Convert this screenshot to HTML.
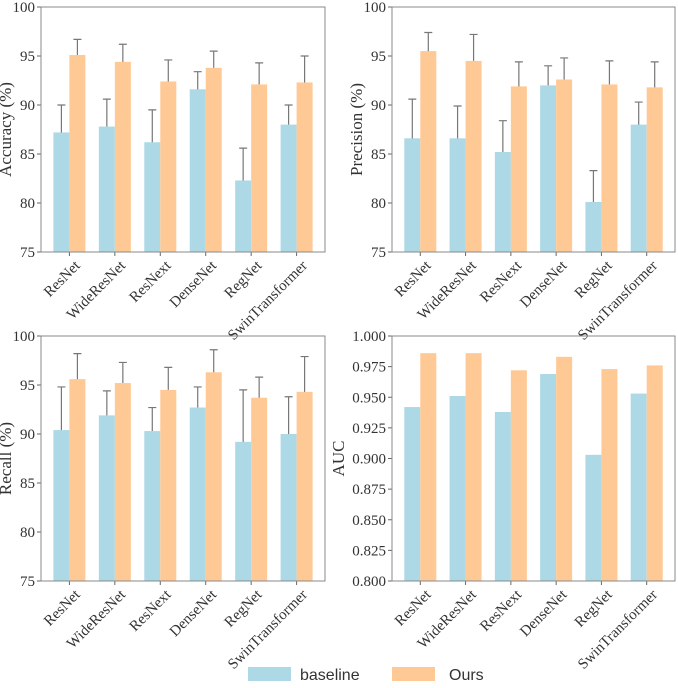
<!DOCTYPE html>
<html><head><meta charset="utf-8"><style>
body{margin:0;background:#fff}
svg text{font-family:"Liberation Serif",serif;fill:#333}
</style></head><body>
<svg id="c" width="678" height="683"></svg>
<script>
const categories=["ResNet","WideResNet","ResNext","DenseNet","RegNet","SwinTransformer"];
const accBase=[87.2,87.8,86.2,91.6,82.3,88.0];
const accBaseErr=[2.8,2.8,3.3,1.8,3.3,2.0];
const accOurs=[95.1,94.4,92.4,93.8,92.1,92.3];
const accOursErr=[1.6,1.8,2.2,1.7,2.2,2.7];
const preBase=[86.6,86.6,85.2,92.0,80.1,88.0];
const preBaseErr=[4.0,3.3,3.2,2.0,3.2,2.3];
const preOurs=[95.5,94.5,91.9,92.6,92.1,91.8];
const preOursErr=[1.9,2.7,2.5,2.2,2.4,2.6];
const recBase=[90.4,91.9,90.3,92.7,89.2,90.0];
const recBaseErr=[4.4,2.5,2.4,2.1,5.3,3.8];
const recOurs=[95.6,95.2,94.5,96.3,93.7,94.3];
const recOursErr=[2.6,2.1,2.3,2.3,2.1,3.6];
const aucBase=[0.942,0.951,0.938,0.969,0.903,0.953];
const aucOurs=[0.986,0.986,0.972,0.983,0.973,0.976];
const pctTicks=[75,80,85,90,95,100];
const aucTicks=[0.800,0.825,0.850,0.875,0.900,0.925,0.950,0.975,1.000];

const NS="http://www.w3.org/2000/svg";
const svg=document.getElementById('c');
function mk(t,a,p){const e=document.createElementNS(NS,t);for(const k in a)e.setAttribute(k,a[k]);(p||svg).appendChild(e);return e;}
function panel(name,x0,y0,x1,y1,ymin,ymax,ticks,dec,label,base,bErr,ours,oErr){
  const g=mk('g',{});
  
  
  const ys=v=>y1-(v-ymin)/(ymax-ymin)*(y1-y0);
  const step=(x1-x0)/6.25, xc=i=>x0+step*(0.625+i), bw=16;
  categories.forEach((c,i)=>{
    const bb=mk('rect',{x:xc(i)-bw,y:ys(base[i]),width:bw,height:y1-ys(base[i]),fill:'#add8e6'},g);
    
    
    const ob=mk('rect',{x:xc(i),y:ys(ours[i]),width:bw,height:y1-ys(ours[i]),fill:'#ffc996'},g);
    
    
    if(bErr){
      [[xc(i)-bw/2,base[i],bErr[i]],[xc(i)+bw/2,ours[i],oErr[i]]].forEach(([x,v,e])=>{
        const t=ys(v+e);
        const l=mk('path',{d:`M${x},${ys(v)}V${t}M${x-4},${t}H${x+4}`,stroke:'#777',fill:'none','stroke-width':1.2},g);
        
        
      });
    }
    const tx=xc(i)+4, ty=y1+7;
    const tl=mk('text',{x:tx,y:ty,'font-size':15,'text-anchor':'end',transform:`rotate(-45 ${tx} ${ty})`,dy:'0.7em'},g);
    tl.textContent=c;
    
    
    mk('line',{x1:xc(i),x2:xc(i),y1:y1,y2:y1+4,stroke:'#666'},g);
  });
  ticks.forEach(v=>{
    const y=ys(v);
    mk('line',{x1:x0-4,x2:x0,y1:y,y2:y,stroke:'#666'},g);
    const t=mk('text',{x:x0-6,y:y+5,'font-size':15,'text-anchor':'end'},g);
    t.textContent=v.toFixed(dec);
    
    
  });
  const fr=mk('rect',{x:x0,y:y0,width:x1-x0,height:y1-y0,fill:'none',stroke:'#888','stroke-width':1},g);
  
  
  const lx=dec?x0-48:x0-30, ly=(y0+y1)/2;
  const yl=mk('text',{x:lx,y:ly,'font-size':17,'text-anchor':'middle',transform:`rotate(-90 ${lx} ${ly})`},g);
  yl.textContent=label;
  
  
}
panel('accuracy',41,7,325,252,75,100,pctTicks,0,'Accuracy (%)',accBase,accBaseErr,accOurs,accOursErr);
panel('precision',392,7,675,252,75,100,pctTicks,0,'Precision (%)',preBase,preBaseErr,preOurs,preOursErr);
panel('recall',41,336,325,581,75,100,pctTicks,0,'Recall (%)',recBase,recBaseErr,recOurs,recOursErr);
panel('auc',392,336,675,581,0.8,1.0,aucTicks,3,'AUC',aucBase,null,aucOurs,null);
const lg=mk('g',{});


[['baseline','#add8e6',248,300],['Ours','#ffc996',392,449]].forEach(([n,c,bx,tx])=>{
  const r=mk('rect',{x:bx,y:667,width:43,height:14,fill:c},lg);
  
  
  const t=mk('text',{x:tx,y:680,'font-size':16,style:'font-family:"Liberation Sans",sans-serif'},lg);
  t.textContent=n;
  
  
});
</script>
</body></html>
